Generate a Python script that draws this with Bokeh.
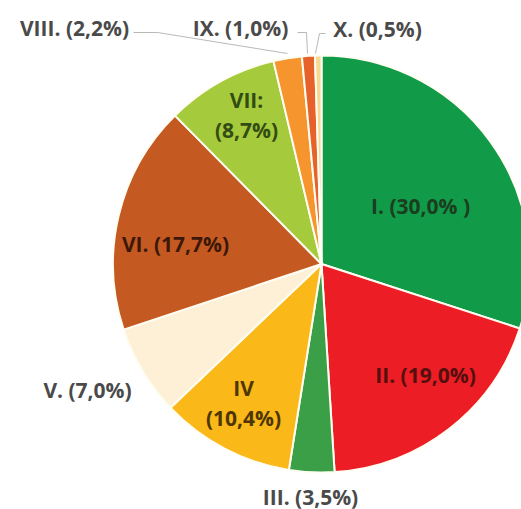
import numpy as np
from bokeh.plotting import figure
from bokeh.models import Range1d, ColumnDataSource
from bokeh.core.properties import value
from bokeh.embed import file_html
from bokeh.resources import INLINE

# ---- data ----
categories = ["I", "II", "III", "IV", "V", "VI", "VII", "VIII", "IX", "X"]
shares = [30.0, 19.0, 3.5, 10.4, 7.0, 17.7, 8.7, 2.2, 1.0, 0.5]
label_texts = ["I. (30,0% )", "II. (19,0%)", "III. (3,5%)", "IV\n(10,4%)", "V. (7,0%)",
               "VI. (17,7%)", "VII:\n(8,7%)", "VIII. (2,2%)", "IX. (1,0%)", "X. (0,5%)"]
colors = ["#119a48", "#ec1d25", "#3b9f48", "#fbb819", "#fdf0d6",
          "#c45a22", "#a5ca3c", "#f6942e", "#e6622a", "#f8d890"]

# ---- layout (picture pixel coords) ----
W, H = 521, 509
def Y(py):
    return H - py

cx, cy, R = 321, Y(263.5), 208.5
label_xy = [(420, 205), (425, 374), (310, 496), (243, 402), (87, 389),
            (175, 243), (246, 114), (74, 27), (240, 27), (377, 28)]
label_colors = ["#1b3d20", "#560f0f", "#4a4a4a", "#4d3600", "#4a4a4a",
                "#3d1808", "#334c14", "#4a4a4a", "#4a4a4a", "#4a4a4a"]
line_gap = 30

p = figure(width=W, height=H, x_range=Range1d(0, W), y_range=Range1d(0, H),
           output_backend="svg", toolbar_location=None,
           x_axis_type=None, y_axis_type=None, min_border=0)
p.grid.visible = False
p.outline_line_color = None
p.background_fill_color = "white"
p.border_fill_color = "white"

frac = np.array(shares) / sum(shares)
cum = np.concatenate([[0], np.cumsum(frac)])
start = np.pi / 2 - 2 * np.pi * cum[:-1]
end = np.pi / 2 - 2 * np.pi * cum[1:]

src = ColumnDataSource(dict(cat=categories, start=start, end=end, color=colors))
p.wedge(x=cx, y=cy, radius=R, start_angle="start", end_angle="end", direction="clock",
        fill_color="color", line_color="#fffdf2", line_width=2, source=src)

# leader lines
p.line([133, 157, 287], [Y(32), Y(32), Y(53)], line_color="#b8b8b8", line_width=1)
p.line([297, 306, 307], [Y(32), Y(32), Y(53)], line_color="#b8b8b8", line_width=1)
p.line([325, 319, 315], [Y(33), Y(33), Y(53)], line_color="#b8b8b8", line_width=1)

xs, ys, ts, cs = [], [], [], []
for t, (lx, ly), c in zip(label_texts, label_xy, label_colors):
    parts = t.split("\n")
    n = len(parts)
    for i, part in enumerate(parts):
        xs.append(lx)
        ys.append(Y(ly + (i - (n - 1) / 2) * line_gap))
        ts.append(part)
        cs.append(c)

lsrc = ColumnDataSource(dict(x=xs, y=ys, t=ts, c=cs))
p.text(x="x", y="y", text="t", text_color="c", source=lsrc,
       text_font=value("Open Sans"), text_font_size="21px", text_font_style="bold",
       text_align="center", text_baseline="middle")

open("out.html", "w").write(file_html(p, INLINE))
